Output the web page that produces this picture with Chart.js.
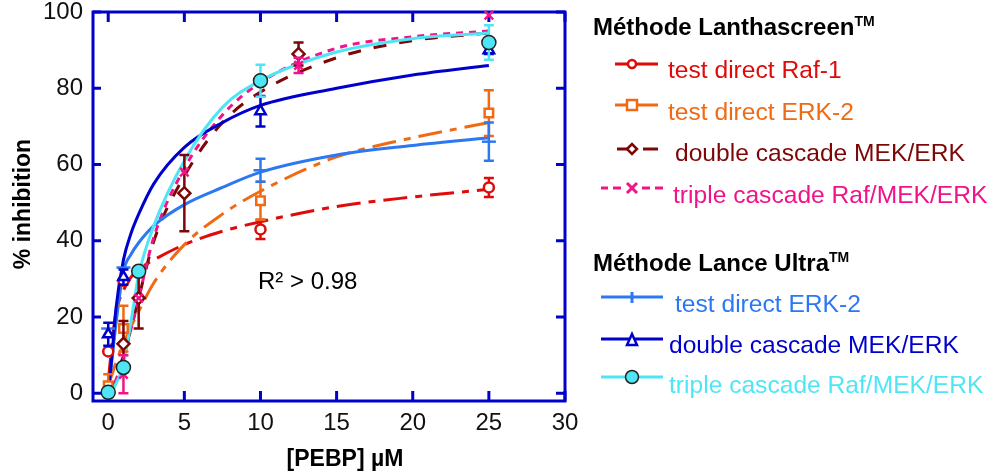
<!DOCTYPE html>
<html>
<head>
<meta charset="utf-8">
<script src="https://cdn.jsdelivr.net/npm/chart.js@4"></script>
<style>
  body { margin: 0; background: #fff; }
  #wrap { position: relative; width: 993px; height: 472px; font-family: "Liberation Sans", Arial, sans-serif; }
  #wrap canvas { position: absolute; left: 0; top: 0; }
  .t { position: absolute; white-space: nowrap; font-size: 24px; line-height: 24px; }
  .e { font-size: 24.6px; }
  .h { font-weight: bold; color: #000; }
  .h sup { font-size: 14px; vertical-align: 0; position: relative; top: -9px; }
  #legendSvg { position: absolute; left: 0; top: 0; }
</style>
</head>
<body>
<div id="wrap">
  <canvas id="chart" width="993" height="472"></canvas>
  <svg id="legendSvg" width="993" height="472"></svg>
  <div class="t h" style="left:22px;top:204px;font-size:23px;transform:translate(-50%,-50%) rotate(-90deg);">% inhibition</div>
  <div class="t h" style="left:345px;top:458px;font-size:23px;transform:translate(-50%,-50%);">[PEBP] µM</div>
  <div class="t" style="left:258px;top:269px;color:#000;">R² &gt; 0.98</div>
  <div id="legend"></div>
</div>
<script>
const curveX = [0, 0.25, 0.5, 1, 1.5, 2, 3, 5, 7.5, 10, 15, 20, 25];

// Méthode Lanthascreen
const raf1X = [0, 1, 10, 25];
const raf1Y = [11, 29.5, 43, 54];
const raf1Err = [0, 0, 2.5, 2.5];
const raf1Fit = [3, 13, 21, 27, 30.5, 32.5, 35, 39, 42.5, 45, 49, 51.5, 53.5];

const erk2X = [0, 1, 10, 25];
const erk2Y = [2, 17, 50.5, 73.5];
const erk2Err = [3, 6, 5, 6];
const erk2Fit = [2, 5, 8, 13, 17.5, 21.5, 29, 39, 47, 53, 62, 67, 71];

const mekErkX = [1, 2, 5, 12.5];
const mekErkY = [13, 25, 52.5, 89];
const mekErkErr = [6, 8, 10, 3];
const mekErkFit = [0, 2, 4, 10, 17, 25, 40, 57, 71, 79, 88, 92.5, 94.5];

const rafMekErkX = [0, 1, 2, 5, 12.5, 25];
const rafMekErkY = [0.5, 5, 25, 58, 86, 99.2];
const rafMekErkErr = [0, 5, 0, 0, 2, 0];
const rafMekErkFit = [0, 1.5, 3.5, 9, 17, 25, 41, 59, 73, 81.5, 90.5, 93.5, 95];

// Méthode Lance Ultra
const uErk2X = [0, 1, 10, 25];
const uErk2Y = [17, 33, 58.5, 66];
const uErk2Err = [0, 0, 3, 5];
const uErk2Fit = [0, 9, 18, 32, 36.5, 39.5, 44, 49.5, 54, 58, 62.5, 65, 67];

const uMekErkX = [0, 1, 10, 25];
const uMekErkY = [15.5, 30.5, 74, 90];
const uMekErkErr = [3, 2, 4, 1];
const uMekErkFit = [0, 10, 22, 35, 42, 47, 55, 64.5, 71, 75.5, 80, 83.5, 86];

const uRafMekErkX = [0, 1, 2, 10, 25];
const uRafMekErkY = [0.3, 6.8, 32, 82, 92];
const uRafMekErkErr = [0, 0, 0, 4.2, 4.5];
const uRafMekErkFit = [0, 0.5, 2.5, 7.5, 19, 31, 44, 61, 75, 82, 89.5, 93, 94.5];

const xTicks = [0, 5, 10, 15, 20, 25, 30];
const yTicks = [0, 20, 40, 60, 80, 100];

const FONT = '"Liberation Sans", Arial, sans-serif';
const FRAME = '#0000cc';

const series = [
  { name: 'test direct Raf-1', color: '#e00a0a', x: raf1X, y: raf1Y, err: raf1Err, fit: raf1Fit,
    dash: [24, 8, 7, 8], style: 'circle', radius: 5, fill: '#fff' },
  { name: 'test direct ERK-2', color: '#f06a14', x: erk2X, y: erk2Y, err: erk2Err, fit: erk2Fit,
    dash: [24, 8, 7, 8], style: 'rect', radius: 6, fill: '#fff' },
  { name: 'double cascade MEK/ERK', color: '#7d0606', x: mekErkX, y: mekErkY, err: mekErkErr, fit: mekErkFit,
    dash: [13, 13], style: 'rectRot', radius: 6, fill: '#fff' },
  { name: 'triple cascade Raf/MEK/ERK', color: '#f0138a', x: rafMekErkX, y: rafMekErkY, err: rafMekErkErr, fit: rafMekErkFit,
    dash: [7, 6], style: 'crossRot', radius: 6, fill: '#f0138a' },
  { name: 'test direct ERK-2', color: '#2c78f2', x: uErk2X, y: uErk2Y, err: uErk2Err, fit: uErk2Fit,
    dash: [], style: 'line', radius: 7, fill: '#2c78f2' },
  { name: 'double cascade MEK/ERK', color: '#0000cc', x: uMekErkX, y: uMekErkY, err: uMekErkErr, fit: uMekErkFit,
    dash: [], style: 'triangle', radius: 6, fill: '#fff' },
  { name: 'triple cascade Raf/MEK/ERK', color: '#4ee6f6', x: uRafMekErkX, y: uRafMekErkY, err: uRafMekErkErr, fit: uRafMekErkFit,
    dash: [], style: 'circle', radius: 7, fill: '#4ee6f6', edge: '#222' }
];

const datasets = [];
series.forEach((s, i) => {
  datasets.push({
    data: curveX.map((x, k) => ({ x: x, y: s.fit[k] })),
    showLine: true, pointRadius: 0, borderColor: s.color, borderWidth: 3,
    borderDash: s.dash, cubicInterpolationMode: 'monotone', order: 20 - i, clip: false
  });
  datasets.push({
    data: s.x.map((x, k) => ({ x: x, y: s.y[k] })),
    err: s.err, errColor: s.color,
    showLine: false, pointStyle: s.style, pointRadius: s.radius,
    pointBackgroundColor: s.fill, pointBorderColor: s.edge || s.color,
    pointBorderWidth: s.edge ? 1.5 : 2.5, order: 10 - i, clip: false
  });
});

// frame drawn all round with ticks pointing inwards
const framePlugin = {
  id: 'frame',
  beforeDatasetsDraw(chart) {
    const { ctx, chartArea: a, scales } = chart;
    ctx.save();
    ctx.strokeStyle = FRAME;
    ctx.lineWidth = 3;
    ctx.strokeRect(a.left, a.top, a.right - a.left, a.bottom - a.top);
    ctx.beginPath();
    xTicks.forEach(v => {
      const px = scales.x.getPixelForValue(v);
      ctx.moveTo(px, a.bottom); ctx.lineTo(px, a.bottom - 10);
      ctx.moveTo(px, a.top); ctx.lineTo(px, a.top + 10);
    });
    yTicks.forEach(v => {
      const py = scales.y.getPixelForValue(v);
      ctx.moveTo(a.left, py); ctx.lineTo(a.left + 8, py);
      ctx.moveTo(a.right, py); ctx.lineTo(a.right - 9, py);
    });
    ctx.stroke();
    ctx.restore();
  }
};

const errorBars = {
  id: 'errorBars',
  beforeDatasetDraw(chart, args) {
    const ds = chart.data.datasets[args.index];
    if (!ds.err) return;
    const { ctx, scales } = chart;
    ctx.save();
    ctx.strokeStyle = ds.errColor;
    ctx.lineWidth = 2.5;
    ds.data.forEach((p, i) => {
      const e = ds.err[i];
      if (!e) return;
      const px = scales.x.getPixelForValue(p.x);
      const top = scales.y.getPixelForValue(p.y + e);
      const bot = scales.y.getPixelForValue(p.y - e);
      ctx.beginPath();
      ctx.moveTo(px, top); ctx.lineTo(px, bot);
      ctx.moveTo(px - 5, top); ctx.lineTo(px + 5, top);
      ctx.moveTo(px - 5, bot); ctx.lineTo(px + 5, bot);
      ctx.stroke();
    });
    ctx.restore();
  }
};

const tickFont = { family: FONT, size: 24 };

new Chart(document.getElementById('chart'), {
  type: 'scatter',
  data: { datasets: datasets },
  options: {
    responsive: false,
    animation: false,
    layout: { padding: { left: 0, top: 12, right: 428, bottom: 0 } },
    plugins: { legend: { display: false }, tooltip: { enabled: false } },
    scales: {
      x: {
        type: 'linear', min: -1, max: 30,
        grid: { display: false, drawTicks: false }, border: { display: false },
        ticks: { font: tickFont, color: '#111', padding: 8, maxRotation: 0 },
        afterBuildTicks: s => { s.ticks = xTicks.map(v => ({ value: v })); },
        afterFit: s => { s.height = 71; s.paddingLeft = 0; s.paddingRight = 0; }
      },
      y: {
        type: 'linear', min: -2, max: 100,
        grid: { display: false, drawTicks: false }, border: { display: false },
        ticks: { font: tickFont, color: '#111', padding: 10 },
        afterBuildTicks: s => { s.ticks = yTicks.map(v => ({ value: v })); },
        afterFit: s => { s.width = 93; s.paddingTop = 0; s.paddingBottom = 0; }
      }
    }
  },
  plugins: [framePlugin, errorBars]
});

// legend: headings, coloured labels and drawn samples
const legendRows = [
  { head: 'Méthode Lanthascreen', x: 593, base: 35 },
  { s: 0, x: 668, base: 78, ly: 64 },
  { s: 1, x: 668, base: 120, ly: 105 },
  { s: 2, x: 675, base: 161, ly: 149 },
  { s: 3, x: 673, base: 203, ly: 188 },
  { head: 'Méthode Lance Ultra', x: 593, base: 271 },
  { s: 4, x: 675, base: 312, ly: 297 },
  { s: 5, x: 669, base: 353, ly: 339 },
  { s: 6, x: 669, base: 393, ly: 377 }
];

const legendDiv = document.getElementById('legend');
const svg = document.getElementById('legendSvg');
const NS = 'http://www.w3.org/2000/svg';
function el(tag, attrs) {
  const e = document.createElementNS(NS, tag);
  for (const k in attrs) e.setAttribute(k, attrs[k]);
  svg.appendChild(e);
  return e;
}

legendRows.forEach(r => {
  const d = document.createElement('div');
  d.className = 't' + (r.head ? ' h' : ' e');
  d.style.left = r.x + 'px';
  d.style.top = (r.base - 20) + 'px';
  if (r.head) {
    d.innerHTML = r.head + '<sup>TM</sup>';
  } else {
    const s = series[r.s];
    d.textContent = s.name;
    d.style.color = s.color;
    const y = r.ly, c = s.color, mx = 632;
    const line = (x1, x2) => el('line', { x1: x1, x2: x2, y1: y, y2: y, stroke: c, 'stroke-width': 3 });
    if (r.s === 0) {
      line(615, 658);
      el('circle', { cx: mx, cy: y, r: 4, fill: '#fff', stroke: c, 'stroke-width': 2.5 });
    } else if (r.s === 1) {
      line(615, 658);
      el('rect', { x: mx - 5, y: y - 5, width: 10, height: 10, fill: '#fff', stroke: c, 'stroke-width': 2.5 });
    } else if (r.s === 2) {
      line(617, 628); line(643, 658);
      el('path', { d: `M${mx - 5} ${y} L${mx} ${y - 5} L${mx + 5} ${y} L${mx} ${y + 5} Z`, fill: '#fff', stroke: c, 'stroke-width': 2.5 });
    } else if (r.s === 3) {
      line(601, 608); line(613, 621); line(642, 650); line(655, 663);
      el('path', { d: `M${mx - 5} ${y - 5} L${mx + 5} ${y + 5} M${mx + 5} ${y - 5} L${mx - 5} ${y + 5}`, stroke: c, 'stroke-width': 3 });
    } else if (r.s === 4) {
      line(601, 663);
      el('line', { x1: mx, x2: mx, y1: y - 5, y2: y + 6, stroke: c, 'stroke-width': 3 });
    } else if (r.s === 5) {
      line(601, 663);
      el('path', { d: `M${mx} ${y - 5} L${mx + 5} ${y + 6} L${mx - 5} ${y + 6} Z`, fill: '#fff', stroke: c, 'stroke-width': 2.5 });
    } else {
      line(601, 663);
      el('circle', { cx: mx, cy: y, r: 6.5, fill: c, stroke: '#222', 'stroke-width': 1.5 });
    }
  }
  legendDiv.appendChild(d);
});
</script>
</body>
</html>
